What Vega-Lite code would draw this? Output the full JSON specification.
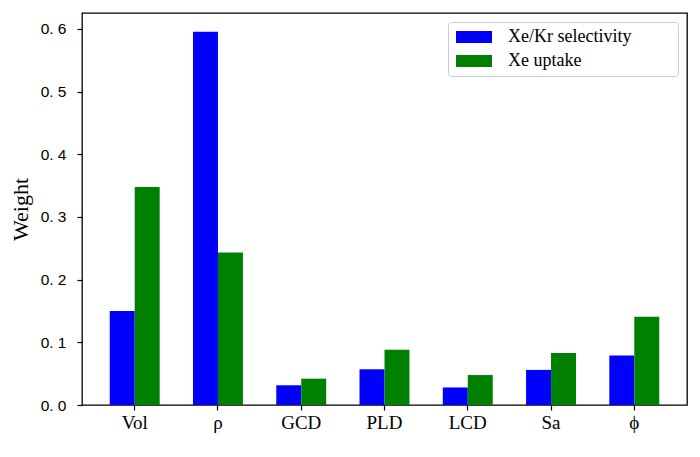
{
  "$schema": "https://vega.github.io/schema/vega-lite/v6.json",
  "description": "Grouped bars of feature weights for Xe/Kr selectivity and Xe uptake.",
  "autosize": {"type": "none"},
  "padding": {"left": 82, "top": 13, "right": 13, "bottom": 52},
  "width": 605,
  "height": 392,
  "background": "white",
  "config": {
    "view": {"stroke": "black", "strokeWidth": 1.3},
    "axis": {"grid": false, "domain": false, "tickColor": "black", "tickSize": 5, "tickWidth": 1.2, "labelColor": "black", "titleColor": "black"}
  },
  "data": {
    "values": [
      {"feature": "Vol", "series": "Xe/Kr selectivity", "weight": 0.150},
      {"feature": "Vol", "series": "Xe uptake", "weight": 0.348},
      {"feature": "ρ", "series": "Xe/Kr selectivity", "weight": 0.5957},
      {"feature": "ρ", "series": "Xe uptake", "weight": 0.2435},
      {"feature": "GCD", "series": "Xe/Kr selectivity", "weight": 0.0315},
      {"feature": "GCD", "series": "Xe uptake", "weight": 0.042},
      {"feature": "PLD", "series": "Xe/Kr selectivity", "weight": 0.057},
      {"feature": "PLD", "series": "Xe uptake", "weight": 0.088},
      {"feature": "LCD", "series": "Xe/Kr selectivity", "weight": 0.028},
      {"feature": "LCD", "series": "Xe uptake", "weight": 0.0478},
      {"feature": "Sa", "series": "Xe/Kr selectivity", "weight": 0.056},
      {"feature": "Sa", "series": "Xe uptake", "weight": 0.083},
      {"feature": "ϕ", "series": "Xe/Kr selectivity", "weight": 0.079},
      {"feature": "ϕ", "series": "Xe uptake", "weight": 0.141}
    ]
  },
  "mark": {"type": "bar"},
  "encoding": {
    "x": {
      "field": "feature",
      "type": "nominal",
      "scale": {
        "domain": ["Vol", "ρ", "GCD", "PLD", "LCD", "Sa", "ϕ"],
        "paddingInner": 0.4,
        "paddingOuter": 0.333
      },
      "axis": {
        "title": null,
        "labelAngle": 0,
        "labelFont": "Liberation Serif",
        "labelFontSize": 19,
        "labelPadding": 3
      }
    },
    "xOffset": {
      "field": "series",
      "type": "nominal",
      "scale": {"domain": ["Xe/Kr selectivity", "Xe uptake"], "paddingInner": 0, "paddingOuter": 0}
    },
    "y": {
      "field": "weight",
      "type": "quantitative",
      "scale": {"domain": [0, 0.6255], "nice": false, "zero": true},
      "axis": {
        "title": "Weight",
        "titleFont": "Liberation Serif",
        "titleFontSize": 22,
        "titleFontWeight": "normal",
        "titlePadding": 8,
        "values": [0, 0.1, 0.2, 0.3, 0.4, 0.5, 0.6],
        "labelExpr": "replace(format(datum.value, '.1f'), '.', '. ')",
        "labelFont": "Liberation Sans",
        "labelFontSize": 15.5,
        "labelPadding": 11
      }
    },
    "color": {
      "field": "series",
      "type": "nominal",
      "scale": {"domain": ["Xe/Kr selectivity", "Xe uptake"], "range": ["#0000ff", "#008000"]},
      "legend": {
        "title": "mm",
        "titleOrient": "right",
        "titleOpacity": 0,
        "titleFont": "Liberation Serif",
        "titleFontSize": 18,
        "titleFontWeight": "normal",
        "titlePadding": 12,
        "orient": "top-right",
        "offset": 9,
        "fillColor": "white",
        "strokeColor": "#cccccc",
        "cornerRadius": 3,
        "padding": 6,
        "symbolType": "M-1,-0.857H4.143V0.857H-1Z",
        "symbolSize": 196,
        "symbolStrokeWidth": 0,
        "symbolOpacity": 1,
        "labelFont": "Liberation Serif",
        "labelFontSize": 18,
        "labelColor": "black",
        "labelOffset": 36,
        "rowPadding": 6
      }
    }
  }
}
